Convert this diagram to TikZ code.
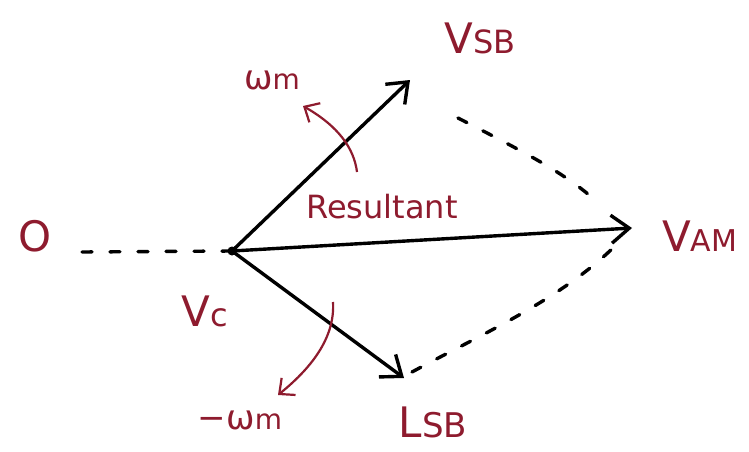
\documentclass[tikz,border=0pt]{standalone}
\usepackage{fontspec}
\setmainfont{DejaVu Sans}
\usetikzlibrary{arrows.meta}
\definecolor{ink}{HTML}{8E1B2E}
\begin{document}
\begin{tikzpicture}[x=1pt,y=-1pt,
  phasor/.style={line width=3.4pt, -{Straight Barb[length=18pt,width=28pt,line width=3.4pt]}},
  dashline/.style={line width=3.4pt, dash pattern=on 10pt off 18pt, line cap=round},
  rot/.style={ink, line width=2.2pt, -{Straight Barb[length=12pt,width=22pt,line width=2.2pt]}},
  lbl/.style={ink, inner sep=0pt, font=\fontsize{42}{44}\selectfont}]
\useasboundingbox (0,0) rectangle (749,452);
\fill[white] (0,0) rectangle (749,452);
\coordinate (vc) at (232,251);
\coordinate (usb) at (410,80);
\coordinate (vam) at (632,228);
\coordinate (lsb) at (404,378);
\coordinate (zero) at (82,252);
% dashed lines
\draw[dashline] (zero) -- (vc);
\draw[dashline] (458,118) .. controls (520,150) and (570,175) .. (600,205);
\draw[dashline] (412,372) .. controls (480,335) and (560,300) .. (615,246);
% phasors
\draw[phasor] (vc) -- (usb);
\draw[phasor] (vc) -- (vam);
\draw[phasor] (vc) -- (lsb);
\fill (vc) circle (4.5pt);
% rotation arrows
\draw[rot] (357,172) .. controls (354,148) and (338,126) .. (303,106);
\draw[rot] (333,302) .. controls (335,335) and (315,365) .. (278,395);
% labels
\node[lbl] (l0) at (35,236) {O};
\node[lbl] (lusb) at (480,38) {V{\fontsize{32}{34}\selectfont SB}};
\node[lbl, font=\fontsize{34}{36}\selectfont] (lwm) at (272,80) {ω{\fontsize{28}{30}\selectfont m}};
\node[lbl, font=\fontsize{32}{34}\selectfont] (lres) at (382,207) {Resultant};
\node[lbl, anchor=west] (lvam) at (662,236) {V{\fontsize{30}{32}\selectfont AM}};
\node[lbl] (lvc) at (205,311) {V{\fontsize{32}{34}\selectfont c}};
\node[lbl, font=\fontsize{34}{36}\selectfont] (lmwm) at (240,420) {−ω{\fontsize{28}{30}\selectfont m}};
\node[lbl] (llsb) at (433,422) {L{\fontsize{34}{36}\selectfont SB}};
\end{tikzpicture}
\end{document}
